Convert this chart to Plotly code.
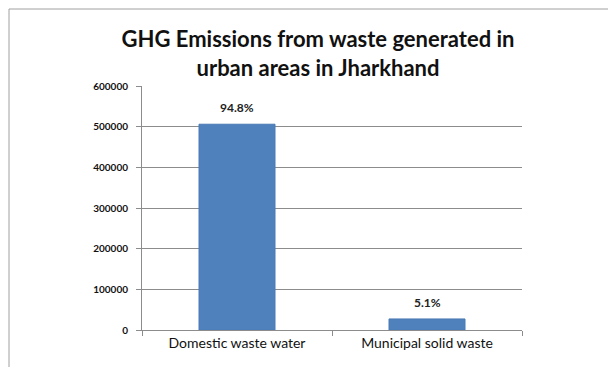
import plotly.graph_objects as go

categories = ["Domestic waste water", "Municipal solid waste"]
values = [506000, 27200]
labels = ["94.8%", "5.1%"]
y_ticks = [0, 100000, 200000, 300000, 400000, 500000, 600000]

# page has an 8px body margin; compensate so the plot lands where the reference has it
OFF = 8
W, H = 616, 367
L, R, T, B = 142 - OFF, 94 + OFF, 86 - OFF, 37 + OFF
pw, ph = W - L - R, H - T - B

def px_x(p):
    return (p - OFF - L) / pw

def px_y(p):
    return (H - B - (p - OFF)) / ph

fig = go.Figure(go.Bar(
    x=categories, y=values, width=0.4,
    marker=dict(color="#4F81BD", line=dict(color="#4a7ab5", width=1)),
))

for c, v, t in zip(categories, values, labels):
    fig.add_annotation(x=c, y=v, text=f"<b>{t}</b>", showarrow=False,
                       yanchor="bottom", yshift=7,
                       font=dict(family="Lato", size=12, color="#222222"))

fig.update_layout(
    width=W, height=H,
    margin=dict(l=L, r=R, t=T, b=B, pad=0),
    paper_bgcolor="white", plot_bgcolor="white",
    showlegend=False,
    font=dict(family="Lato", color="#111111"),
    title=dict(
        text="<b>GHG Emissions from waste generated in<br>urban areas in Jharkhand</b>",
        x=(318 - OFF) / W, xanchor="center", y=1 - (47 - OFF) / H, yanchor="middle",
        font=dict(family="Lato", size=22, color="#111111"),
    ),
)
fig.update_yaxes(
    range=[0, 600000], tickvals=y_ticks,
    ticktext=[f"<b>{v}</b>" for v in y_ticks],
    tickfont=dict(family="Lato", size=10, color="#111111"),
    showgrid=True, gridcolor="#8c8c8c", gridwidth=1,
    showline=True, linecolor="#8c8c8c", linewidth=1,
    ticks="outside", ticklen=5, tickcolor="#8c8c8c",
    zeroline=False, ticklabelstandoff=6,
)
fig.update_xaxes(
    tickfont=dict(family="Lato", size=14, color="#111111"),
    showline=True, linecolor="#8c8c8c", linewidth=1,
    ticks="outside", ticklen=5, tickcolor="#8c8c8c", tickson="boundaries",
    showgrid=False,
)
fig.add_shape(type="rect", xref="paper", yref="paper",
              x0=px_x(9), x1=px_x(660), y0=px_y(420), y1=px_y(9),
              line=dict(color="#a0a0a0", width=1), fillcolor="rgba(0,0,0,0)", layer="below")

fig.write_html("out.html")
